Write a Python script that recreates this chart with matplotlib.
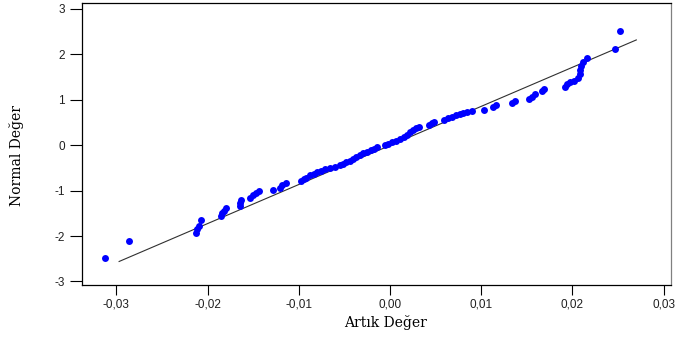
import matplotlib
matplotlib.use("Agg")
import matplotlib.pyplot as plt
from matplotlib.ticker import FixedLocator, FixedFormatter

plt.rcParams["axes.unicode_minus"] = False

# Residuals (Artık Değer) and their normal scores (Normal Değer)
residuals = [
    -0.03125, -0.02862, -0.02122, -0.02111, -0.02094, -0.02067, -0.01848, -0.01837,
    -0.01820, -0.01798, -0.01650, -0.01645, -0.01634, -0.01535, -0.01502, -0.01469,
    -0.01431, -0.01288, -0.01206, -0.01184, -0.01135, -0.00976, -0.00948, -0.00921,
    -0.00877, -0.00833, -0.00800, -0.00757, -0.00713, -0.00658, -0.00603, -0.00548,
    -0.00515, -0.00482, -0.00439, -0.00406, -0.00373, -0.00329, -0.00296, -0.00252,
    -0.00208, -0.00175, -0.00143, -0.00055, -0.00022, 0.00022, 0.00066, 0.00110,
    0.00154, 0.00186, 0.00219, 0.00252, 0.00285, 0.00318, 0.00428, 0.00461,
    0.00482, 0.00592, 0.00636, 0.00680, 0.00724, 0.00768, 0.00800, 0.00844,
    0.00899, 0.01031, 0.01129, 0.01162, 0.01338, 0.01371, 0.01524, 0.01557,
    0.01590, 0.01667, 0.01689, 0.01919, 0.01941, 0.01974, 0.02018, 0.02056,
    0.02078, 0.02083, 0.02094, 0.02116, 0.02160, 0.02467, 0.02522,
]
normal_scores = [
    -2.484, -2.110, -1.923, -1.857, -1.780, -1.648, -1.560, -1.505,
    -1.440, -1.385, -1.341, -1.275, -1.209, -1.154, -1.099, -1.055,
    -1.011, -0.978, -0.934, -0.868, -0.824, -0.780, -0.747, -0.714,
    -0.670, -0.637, -0.604, -0.571, -0.538, -0.505, -0.473, -0.440,
    -0.407, -0.374, -0.341, -0.297, -0.264, -0.220, -0.176, -0.143,
    -0.110, -0.077, -0.033, 0.000, 0.033, 0.066, 0.099, 0.143,
    0.176, 0.231, 0.286, 0.341, 0.385, 0.407, 0.451, 0.484,
    0.516, 0.549, 0.593, 0.626, 0.659, 0.681, 0.703, 0.736,
    0.747, 0.769, 0.835, 0.879, 0.923, 0.967, 1.011, 1.066,
    1.121, 1.187, 1.242, 1.286, 1.341, 1.385, 1.418, 1.484,
    1.571, 1.648, 1.736, 1.824, 1.912, 2.121, 2.505,
]

# Reference (fitted) line endpoints
line_x = [-0.0297, 0.0270]
line_y = [-2.56, 2.31]

x_ticks = [-0.03, -0.02, -0.01, 0.00, 0.01, 0.02, 0.03]
x_tick_labels = ["-0,03", "-0,02", "-0,01", "0,00", "0,01", "0,02", "0,03"]
y_ticks = [-3, -2, -1, 0, 1, 2, 3]
y_tick_labels = ["-3", "-2", "-1", "0", "1", "2", "3"]

fig = plt.figure(figsize=(6.77, 3.37), dpi=100)
ax = fig.add_axes([0.1207, 0.1543, 0.8704, 0.8367])

ax.plot(line_x, line_y, color="#303030", linewidth=0.8, zorder=2)
ax.plot(residuals, normal_scores, linestyle="none", marker="o",
        markersize=5, color="#0000ff", markeredgewidth=0, zorder=3)

ax.set_xlim(-0.0338, 0.0308)
ax.set_ylim(-3.077, 3.121)

ax.xaxis.set_major_locator(FixedLocator(x_ticks))
ax.xaxis.set_major_formatter(FixedFormatter(x_tick_labels))
ax.yaxis.set_major_locator(FixedLocator(y_ticks))
ax.yaxis.set_major_formatter(FixedFormatter(y_tick_labels))

for lab in ax.get_xticklabels() + ax.get_yticklabels():
    lab.set_fontfamily("Liberation Sans")
    lab.set_fontsize(8.5)
    lab.set_color("#202020")

ax.tick_params(axis="x", direction="out", length=7, width=0.8, pad=3)
ax.tick_params(axis="y", direction="out", length=9, width=0.8, pad=3)

for side in ("left", "bottom", "top"):
    ax.spines[side].set_color("black")
    ax.spines[side].set_linewidth(0.9)
ax.spines["right"].set_color("#808080")
ax.spines["right"].set_linewidth(0.9)

label_font = {"family": "DejaVu Serif", "size": 10}
fig.text(385.5 / 677, 1 - 322 / 337, "Artık Değer", ha="center", va="center",
         fontdict=label_font)
fig.text(16.7 / 677, 1 - 156 / 337, "Normal Değer", ha="center", va="center",
         rotation=90, fontdict=label_font)

fig.savefig("out.png", dpi=100)
